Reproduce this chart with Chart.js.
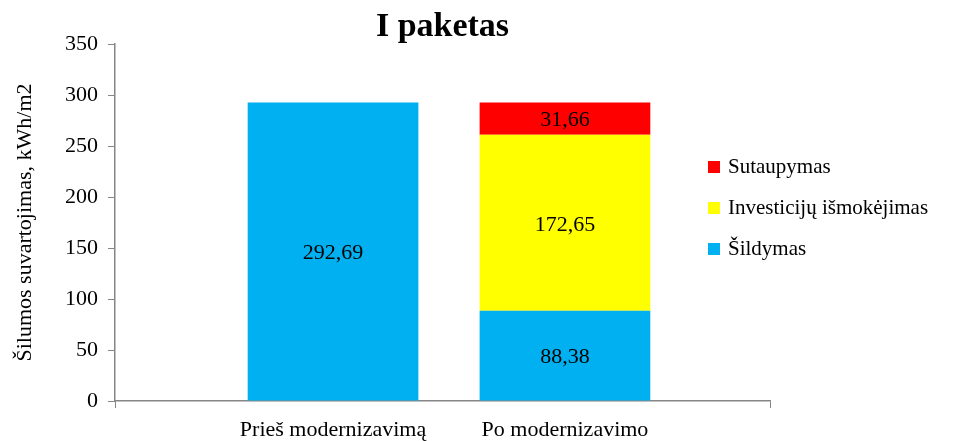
<!DOCTYPE html>
<html>
<head>
<meta charset="utf-8">
<script src="https://cdn.jsdelivr.net/npm/chart.js@4/dist/chart.umd.min.js"></script>
<style>
  body { margin: 0; background: #fff; }
  #wrap { width: 957px; height: 441px; }
</style>
</head>
<body>
<div id="wrap"><canvas id="myChart" width="957" height="441"></canvas></div>
<script>
const kategorijos = ["Prieš modernizavimą", "Po modernizavimo"];
const sildymas = [292.69, 88.38];
const investicijos = [null, 172.65];
const sutaupymas = [null, 31.66];
const yTicks = [0, 50, 100, 150, 200, 250, 300, 350];

const serif = "'Liberation Serif', 'Times New Roman', serif";
const pilka = "#868686";

function taskai(reiksmes) {
  return reiksmes.map((v, i) => ({ x: i, y: v }));
}

// reiksmes ant stulpeliu
const etiketes = {
  id: "etiketes",
  afterDatasetsDraw(chart) {
    const ctx = chart.ctx;
    ctx.save();
    ctx.font = "22px " + serif;
    ctx.fillStyle = "#000";
    ctx.textAlign = "center";
    ctx.textBaseline = "middle";
    chart.data.datasets.forEach((ds, di) => {
      const meta = chart.getDatasetMeta(di);
      meta.data.forEach((bar, i) => {
        const v = ds.data[i].y;
        if (v == null) return;
        const yc = (bar.y + bar.base) / 2;
        ctx.fillText(v.toFixed(2).replace(".", ","), bar.x, yc + 2);
      });
    });
    ctx.restore();
  }
};

// legenda uzdeta ant braizymo srities
const legenda = {
  id: "legenda",
  afterDraw(chart) {
    const ctx = chart.ctx;
    const area = chart.chartArea;
    const x0 = area.right - 62;
    let y = area.top + 123;
    ctx.save();
    ctx.font = "21px " + serif;
    ctx.textBaseline = "middle";
    ctx.textAlign = "left";
    const ds = chart.data.datasets.slice().reverse();
    ds.forEach((d) => {
      ctx.fillStyle = d.backgroundColor;
      ctx.fillRect(x0, y - 6, 12, 12);
      ctx.fillStyle = "#000";
      ctx.fillText(d.label, x0 + 20, y);
      y += 41;
    });
    ctx.restore();
  }
};

const config = {
  type: "bar",
  data: {
    datasets: [
      { label: "Šildymas", data: taskai(sildymas), backgroundColor: "#00B0F0", stack: "s" },
      { label: "Investicijų išmokėjimas", data: taskai(investicijos), backgroundColor: "#FFFF00", stack: "s" },
      { label: "Sutaupymas", data: taskai(sutaupymas), backgroundColor: "#FF0000", stack: "s" }
    ]
  },
  options: {
    responsive: false,
    animation: false,
    layout: { padding: { left: 0, right: 187, top: 0, bottom: 0 } },
    categoryPercentage: 0.9,
    barPercentage: 0.925,
    plugins: {
      legend: { display: false },
      tooltip: { enabled: false },
      title: {
        display: true,
        text: "I paketas",
        fullSize: false,
        color: "#000",
        font: { family: serif, size: 34, weight: "bold", lineHeight: 1 },
        padding: { top: 10, bottom: 0 }
      }
    },
    scales: {
      x: {
        type: "linear",
        offset: false,
        min: -0.94,
        max: 1.884,
        afterBuildTicks: (s) => {
          s.ticks = [{ value: s.min }].concat(kategorijos.map((c, i) => ({ value: i })), [{ value: s.max }]);
        },
        afterFit: (s) => { s.height = 40; },
        ticks: {
          autoSkip: false,
          maxRotation: 0,
          padding: 9,
          color: "#000",
          font: { family: serif, size: 22 },
          callback: (v) => kategorijos[v] || ""
        },
        grid: {
          offset: false,
          drawOnChartArea: false,
          tickLength: 7,
          color: (c) => (c.tick && Number.isInteger(c.tick.value) ? "rgba(0,0,0,0)" : pilka)
        },
        border: { color: pilka, width: 1.5 }
      },
      y: {
        stacked: true,
        min: 0,
        max: 350,
        afterBuildTicks: (s) => { s.ticks = yTicks.map((v) => ({ value: v })); },
        afterFit: (s) => { s.width = 115; },
        ticks: {
          padding: 10,
          color: "#000",
          font: { family: serif, size: 22 }
        },
        grid: { drawOnChartArea: false, tickLength: 7, color: pilka },
        border: { color: pilka, width: 1.5 },
        title: {
          display: true,
          text: "Šilumos suvartojimas, kWh/m2",
          color: "#000",
          font: { family: serif, size: 22 },
          padding: { top: 12, bottom: 0 }
        }
      }
    }
  },
  plugins: [etiketes, legenda]
};

const myChart = document.getElementById("myChart");
let grafikas = new Chart(myChart, config);
</script>
</body>
</html>
